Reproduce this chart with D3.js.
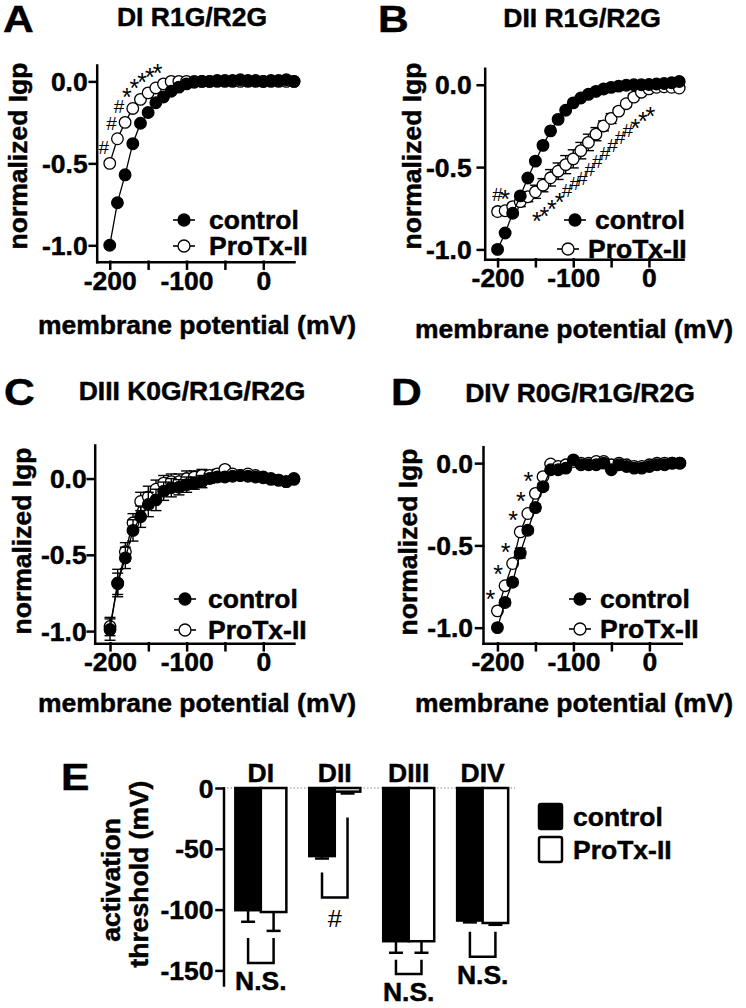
<!DOCTYPE html>
<html><head><meta charset="utf-8">
<script src="https://cdn.jsdelivr.net/npm/d3@7"></script>
<style>body{margin:0;background:#fff}svg{display:block}svg text{opacity:0.995}</style>
</head><body>
<svg id="fig" width="746" height="1008"></svg>
<script>
// ---------- data ----------
const voltage = [-200,-190,-180,-170,-160,-150,-140,-130,-120,-110,-100,-90,-80,-70,-60,-50,-40,-30,-20,-10,0,10,20,30,40];
const seriesNames = ['control','ProTx-II'];
const xTicks = [-200,-150,-100,-50,0];
const xTickLabels = [-200,-100,0];
const yTicks = [0,-0.5,-1.0];

// Panel A: DI R1G/R2G
const aControl = [-1.0,-0.74,-0.57,-0.38,-0.255,-0.19,-0.13,-0.095,-0.06,-0.035,-0.015,-0.005,0,0,0.005,0.005,0.005,0.01,0.005,0.005,0,0.005,0.005,0.01,0];
const aProTx   = [-0.5,-0.35,-0.25,-0.165,-0.11,-0.07,-0.04,-0.015,0,0,0,0,0,0,0,0,0,0,0,0,0,0,0,0,0];
const aMarkV   = [-200,-190,-180,-170,-160,-150,-140,-130];
const aMarkSym = ['#','#','#','*','*','*','*','*'];

// Panel B: DII R1G/R2G
const bControl = [-1.0,-0.90,-0.78,-0.675,-0.566,-0.464,-0.368,-0.28,-0.21,-0.155,-0.11,-0.08,-0.058,-0.04,-0.026,-0.016,-0.008,-0.003,0,0,0.002,0.005,0.008,0.012,0.02];
const bProTx   = [-0.77,-0.765,-0.74,-0.71,-0.68,-0.65,-0.61,-0.565,-0.525,-0.485,-0.45,-0.40,-0.35,-0.30,-0.25,-0.205,-0.16,-0.115,-0.075,-0.045,-0.025,-0.015,-0.012,-0.015,-0.02];
const bProTxErr = [0.02,0.02,0.02,0.03,0.03,0.04,0.04,0.05,0.05,0.055,0.055,0.05,0.05,0.04,0.03,0.03,0.02,0.02,0.02,0.01,0.01,0.01,0.01,0.01,0.01];
const bTopMarkV = [-200,-190];
const bTopMarkSym = ['#','*'];
const bLowMarkV = [-160,-150,-140,-130,-120,-110,-100,-90,-80,-70,-60,-50,-40,-30,-20,-10];
const bLowMarkSym = ['*','*','*','*','#','#','#','#','#','#','#','#','#','*','*','*'];

// Panel C: DIII K0G/R1G/R2G
const cControl = [-0.99,-0.685,-0.52,-0.34,-0.25,-0.17,-0.14,-0.083,-0.06,-0.057,-0.04,-0.03,-0.02,0.0,0.01,0.01,0.015,0.02,0.015,0.01,0.005,-0.005,-0.01,-0.02,-0.005];
const cControlErr = [0.07,0.09,0.07,0.07,0.07,0.08,0.07,0.06,0.06,0.05,0.05,0.04,0.04,0.03,0.03,0.02,0.02,0.02,0.02,0.02,0.01,0.01,0.01,0.01,0.01];
const cProTx   = [-0.97,-0.69,-0.48,-0.29,-0.15,-0.12,-0.07,-0.03,-0.02,-0.02,0.0,0.01,0.02,0.02,0.03,0.06,0.03,0.02,0.03,0.02,0.01,0.0,-0.01,-0.02,0.0];
const cProTxErr = [0.06,0.07,0.06,0.06,0.06,0.07,0.06,0.05,0.05,0.05,0.05,0.04,0.04,0.03,0.03,0.02,0.02,0.02,0.01,0.01,0.01,0.01,0.01,0.01,0.01];

// Panel D: DIV R0G/R1G/R2G
const dControl = [-1.0,-0.847,-0.724,-0.547,-0.408,-0.27,-0.143,-0.04,-0.04,-0.03,0.02,-0.01,-0.01,-0.01,0.0,-0.04,-0.01,-0.02,-0.03,-0.03,-0.02,-0.01,-0.01,0.0,0.0];
const dControlErr = [0.01,0.02,0.02,0.03,0.02,0.02,0.02,0.01,0.01,0.01,0.01,0.01,0.01,0.01,0.01,0.01,0.01,0.01,0.01,0.01,0.01,0.01,0.01,0.01,0.01];
const dProTx   = [-0.898,-0.745,-0.61,-0.418,-0.306,-0.184,-0.082,-0.005,-0.02,-0.01,0.01,0.0,0.0,0.01,0.01,-0.01,0.0,-0.01,-0.02,-0.02,-0.01,0.0,0.0,0.0,0.0];
const dMarkV   = [-200,-190,-180,-170,-160,-150];
const dMarkSym = ['*','*','*','*','*','*'];

// Panel E: activation threshold
const eCats = ['DI','DII','DIII','DIV'];
const eControl    = [-100.5,-56,-126,-109];
const eControlErr = [9.5,2,9.5,1.5];
const eProTx      = [-102,-3,-126,-111];
const eProTxErr   = [15.5,1.5,9.5,1.5];
const eSig        = ['N.S.','#','N.S.','N.S.'];
const eTicks      = [0,-50,-100,-150];

// ---------- drawing ----------
const FONT = "'Liberation Sans', Arial, Helvetica, sans-serif";
const FS = 25, SX = 1.06;
const svg = d3.select('#fig');

function label(g, x, y, s, o = {}) {
  const size = o.size || FS, sx = o.sx || SX, rot = o.rot || 0;
  const t = g.append('text')
    .attr('transform', `translate(${x},${y}) rotate(${rot}) scale(${sx},1)`)
    .attr('text-anchor', o.anchor || 'start')
    .attr('font-family', FONT)
    .attr('font-weight', o.weight || 'bold')
    .attr('font-size', size)
    .attr('fill', '#000')
    .text(s);
  if ((o.weight || 'bold') === 'bold') t.attr('stroke', '#000').attr('stroke-width', 0.45);
  return t;
}

function styleAxis(g) {
  g.selectAll('path,line').attr('stroke', '#000').attr('stroke-width', 2.5).attr('stroke-linecap', 'square');
  g.selectAll('text').attr('font-family', FONT).attr('font-weight', 'bold').attr('font-size', FS)
    .attr('fill', '#000').attr('stroke', '#000').attr('stroke-width', 0.45);
}

function drawSeries(g, x, y, vals, errs, filled) {
  const pts = voltage.map((v, i) => ({ v, m: vals[i], e: errs ? errs[i] : 0 }));
  g.append('path').datum(pts)
    .attr('d', d3.line().x(d => x(d.v)).y(d => y(d.m)))
    .attr('fill', 'none').attr('stroke', '#000').attr('stroke-width', 1.3);
  const eb = g.append('g').attr('stroke', '#000').attr('stroke-width', 1.4);
  pts.filter(d => d.e > 0).forEach(d => {
    eb.append('line').attr('x1', x(d.v)).attr('x2', x(d.v)).attr('y1', y(d.m - d.e)).attr('y2', y(d.m + d.e));
    [d.m - d.e, d.m + d.e].forEach(t => eb.append('line')
      .attr('x1', x(d.v) - 5.5).attr('x2', x(d.v) + 5.5).attr('y1', y(t)).attr('y2', y(t)));
  });
  g.append('g').selectAll('circle').data(pts).join('circle')
    .attr('cx', d => x(d.v)).attr('cy', d => y(d.m)).attr('r', 5.8)
    .attr('fill', filled ? '#000' : '#fff').attr('stroke', '#000').attr('stroke-width', 1.3);
}

function marks(g, x, y, vList, symList, series, dx, dy) {
  vList.forEach((v, i) => {
    const idx = voltage.indexOf(v);
    const s = symList[i];
    const size = s === '*' ? 25 : 19;
    const cx = x(v) + dx, cy = y(series[idx]) + dy;
    const base = cy + (s === '*' ? 0.56 : 0.36) * size;
    label(g, cx, base, s, { size, sx: 1.0, anchor: 'middle', weight: 'normal' });
  });
}

function curvePanel(c) {
  const g = svg.append('g');
  const x = d3.scaleLinear().domain(c.xd).range(c.xr);
  const y = d3.scaleLinear().domain(c.yd).range(c.yr);
  const ax = g.append('g').attr('transform', `translate(0,${c.yr[0]})`)
    .call(d3.axisBottom(x).tickValues(xTicks).tickFormat(d => xTickLabels.includes(d) ? String(d) : '').tickSize(7).tickSizeOuter(0));
  const ay = g.append('g').attr('transform', `translate(${c.xr[0]},0)`)
    .call(d3.axisLeft(y).tickValues(yTicks).tickFormat(d => d.toFixed(1)).tickSize(7).tickSizeOuter(0));
  styleAxis(ax); styleAxis(ay);
  ax.selectAll('.tick text').attr('y', 0).attr('dy', 0).attr('transform', `translate(0,28) scale(${SX},1)`);
  ay.selectAll('.tick text').attr('x', 0).attr('dy', 0).attr('text-anchor', 'end')
    .attr('transform', `translate(${-c.yGap},9) scale(${SX},1)`);
  label(g, c.letter[1], c.letter[2], c.letter[0], { size: 37, sx: 1.15 });
  label(g, c.title[1], c.title[2], c.title[0], { anchor: 'middle' });
  label(g, c.xt[0], c.xt[1], 'membrane potential (mV)', { anchor: 'middle' });
  label(g, c.yt[0], c.yt[1], 'normalized Igp', { anchor: 'middle', rot: -90 });
  drawSeries(g, x, y, c.prot, c.protErr, false);
  drawSeries(g, x, y, c.ctrl, c.ctrlErr, true);
  (c.marks || []).forEach(m => marks(g, x, y, m[0], m[1], c.prot, m[2], m[3]));
  c.legend.forEach((L, i) => {
    const lg = g.append('g');
    lg.append('line').attr('x1', L[0] - 11).attr('x2', L[0] + 11).attr('y1', L[1]).attr('y2', L[1])
      .attr('stroke', '#000').attr('stroke-width', 1.6);
    lg.append('circle').attr('cx', L[0]).attr('cy', L[1]).attr('r', 6)
      .attr('fill', i === 0 ? '#000' : '#fff').attr('stroke', '#000').attr('stroke-width', 1.3);
    label(lg, L[2], L[1] + 9, seriesNames[i]);
  });
}

curvePanel({
  xd: [-217, 40], xr: [96.7, 294], yd: [-1.1, 0.1], yr: [261.7, 65], yGap: 9,
  letter: ['A', 3, 32], title: ['DI R1G/R2G', 192, 25.5], xt: [197, 334], yt: [27, 156],
  ctrl: aControl, prot: aProTx, marks: [[aMarkV, aMarkSym, -6, -16]],
  legend: [[184, 220, 209], [184, 246, 209]]
});
curvePanel({
  xd: [-217, 45], xr: [484.7, 683], yd: [-1.06, 0.1], yr: [259.3, 68.3], yGap: 13,
  letter: ['B', 378, 32], title: ['DII R1G/R2G', 582, 27], xt: [574, 338], yt: [421, 156],
  ctrl: bControl, prot: bProTx, protErr: bProTxErr,
  marks: [[bTopMarkV, bTopMarkSym, 0, -17], [bLowMarkV, bLowMarkSym, 9, 19]],
  legend: [[575, 220, 595], [568, 249, 588]]
});
curvePanel({
  xd: [-220, 40], xr: [94.7, 293.9], yd: [-1.08, 0.22], yr: [643.3, 445], yGap: 8,
  letter: ['C', 4, 405], title: ['DIII K0G/R1G/R2G', 192, 400], xt: [197, 712], yt: [31, 541],
  ctrl: cControl, ctrlErr: cControlErr, prot: cProTx, protErr: cProTxErr,
  legend: [[185, 599, 208], [185, 630, 208]]
});
curvePanel({
  xd: [-219, 42], xr: [483, 681.3], yd: [-1.095, 0.1], yr: [643.3, 446.7], yGap: 10,
  letter: ['D', 391, 405], title: ['DIV R0G/R1G/R2G', 580, 402], xt: [574, 712], yt: [417, 542],
  ctrl: dControl, ctrlErr: dControlErr, prot: dProTx, marks: [[dMarkV, dMarkSym, -7, -17]],
  legend: [[580, 599, 600], [580, 629, 600]]
});

// ---------- Panel E ----------
(function () {
  const g = svg.append('g');
  const y = d3.scaleLinear().domain([-162, 0]).range([985, 788]);
  const x0 = d3.scaleBand().domain(eCats).range([223.5, 520]).paddingInner(0.31).paddingOuter(0.16);
  const x1 = d3.scaleBand().domain(seriesNames).range([0, x0.bandwidth()]);
  g.append('line').attr('x1', 223.5).attr('x2', 515).attr('y1', y(0)).attr('y2', y(0))
    .attr('stroke', '#888').attr('stroke-width', 1).attr('stroke-dasharray', '1.5,2');
  const ay = g.append('g').attr('transform', 'translate(223.5,0)')
    .call(d3.axisLeft(y).tickValues(eTicks).tickFormat(d => String(d)).tickSize(7).tickSizeOuter(0));
  styleAxis(ay);
  ay.selectAll('.tick text').attr('x', 0).attr('dy', 0).attr('text-anchor', 'end')
    .attr('transform', `translate(-10,9) scale(${SX},1)`);
  label(g, 61, 790, 'E', { size: 37, sx: 1.15 });
  label(g, 120, 880, 'activation', { anchor: 'middle', rot: -90 });
  label(g, 148, 874, 'threshold (mV)', { anchor: 'middle', rot: -90 });

  eCats.forEach((cat, i) => {
    const bx = x0(cat);
    const vals = [eControl[i], eProTx[i]], errs = [eControlErr[i], eProTxErr[i]];
    const cx = [];
    seriesNames.forEach((s, j) => {
      const xx = bx + x1(s), w = x1.bandwidth();
      cx.push(xx + w / 2);
      g.append('line').attr('x1', xx + w / 2).attr('x2', xx + w / 2).attr('y1', y(vals[j])).attr('y2', y(vals[j] - errs[j]))
        .attr('stroke', '#000').attr('stroke-width', 2.5);
      g.append('line').attr('x1', xx + w / 2 - 7).attr('x2', xx + w / 2 + 7).attr('y1', y(vals[j] - errs[j])).attr('y2', y(vals[j] - errs[j]))
        .attr('stroke', '#000').attr('stroke-width', 2.5);
      g.append('rect').attr('x', xx).attr('y', y(0)).attr('width', w).attr('height', y(vals[j]) - y(0))
        .attr('fill', j === 0 ? '#000' : '#fff').attr('stroke', '#000').attr('stroke-width', 2.5);
    });
    label(g, bx + x0.bandwidth() / 2, 782, cat, { anchor: 'middle' });
    const lowC = y(vals[0] - errs[0]), lowP = y(vals[1] - errs[1]);
    let topL, topR, bot, textY;
    if (eSig[i] === '#') {
      topL = lowC + 14; topR = lowP + 24; bot = lowC + 39; textY = bot + 29;
    } else {
      topL = topR = Math.max(lowC, lowP) + 7;
      bot = Math.min(topL + 25, 974);
      textY = bot + 27;
    }
    g.append('path').attr('d', `M${cx[0]},${topL}V${bot}H${cx[1]}V${topR}`)
      .attr('fill', 'none').attr('stroke', '#000').attr('stroke-width', 2.5);
    label(g, (cx[0] + cx[1]) / 2, textY, eSig[i], { anchor: 'middle', weight: eSig[i] === '#' ? 'normal' : 'bold', size: eSig[i] === '#' ? 24 : FS });
  });

  seriesNames.forEach((s, j) => {
    g.append('rect').attr('x', 539).attr('y', 804 + j * 33).attr('width', 23).attr('height', 25).attr('rx', 2)
      .attr('fill', j === 0 ? '#000' : '#fff').attr('stroke', '#000').attr('stroke-width', 2.5);
    label(g, 573, 826 + j * 33, s);
  });
})();
</script>
</body></html>
